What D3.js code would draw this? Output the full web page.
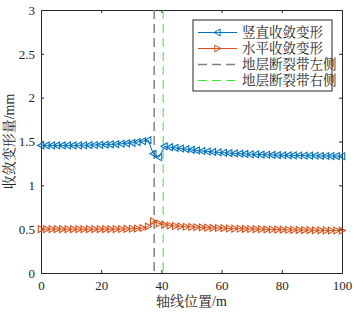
<!DOCTYPE html>
<html><head><meta charset="utf-8">
<script src="https://cdn.jsdelivr.net/npm/d3@7"></script>
<style>
html,body{margin:0;padding:0;background:#fff;}
text{font-family:"Liberation Serif","Times New Roman","Noto Serif CJK SC","Noto Sans CJK SC",serif;}
</style></head>
<body><div id="chart"></div>
<script>
const xPos = [0,1.8,3.6,5.3,7.1,8.9,10.7,12.5,14.2,16.0,17.8,19.6,21.4,23.1,24.9,26.7,28.5,30.3,32.0,33.8,35.6,
  37.3,39.2,41.0,
  42.8,44.6,46.4,48.2,50.0,51.7,53.5,55.3,57.1,58.9,60.7,62.5,64.3,66.1,67.8,69.6,71.4,73.2,75.0,76.8,78.6,80.4,82.2,83.9,85.7,87.5,89.3,91.1,92.9,94.7,96.4,98.2,100];
const verticalConv = [1.455,1.455,1.455,1.455,1.455,1.455,1.455,1.456,1.457,1.458,1.46,1.462,1.464,1.467,1.47,1.474,1.479,1.485,1.493,1.503,1.515,
  1.36,1.32,1.445,
  1.435,1.428,1.42,1.413,1.405,1.398,1.392,1.386,1.381,1.376,1.372,1.368,1.364,1.361,1.358,1.355,1.353,1.351,1.349,1.347,1.345,1.343,1.342,1.341,1.34,1.339,1.338,1.337,1.336,1.335,1.334,1.333,1.332];
const horizontalConv = [0.5,0.5,0.5,0.5,0.5,0.5,0.5,0.5,0.5,0.5,0.5,0.5,0.5,0.5,0.501,0.502,0.503,0.505,0.508,0.513,0.53,
  0.59,0.565,0.55,
  0.542,0.536,0.532,0.528,0.525,0.522,0.52,0.517,0.515,0.513,0.511,0.509,0.507,0.505,0.503,0.502,0.5,0.499,0.497,0.496,0.495,0.494,0.493,0.492,0.491,0.49,0.489,0.488,0.487,0.486,0.485,0.485,0.484];
const faultLeft = 37.6, faultRight = 40.6;
const seriesNames = ["竖直收敛变形","水平收敛变形","地层断裂带左侧","地层断裂带右侧"];
const xTicks = [0,20,40,60,80,100];
const yTicks = [0,0.5,1,1.5,2,2.5,3];
const xTitle = "轴线位置/m", yTitle = "收敛变形量/mm";

const W=354,H=313, m={l:41,r:12,t:10,b:40};
const svg=d3.select("#chart").append("svg").attr("width",W).attr("height",H);
const x=d3.scaleLinear().domain([0,100]).range([m.l,W-m.r]);
const y=d3.scaleLinear().domain([0,3]).range([H-m.b,m.t]);
const blue="#0072BD", orange="#D95319", gray="#808080", green="#33ee33";

const g=svg.append("g");
const ax=d3.axisBottom(x).tickValues(xTicks).tickSize(-3).tickPadding(8).tickFormat(d3.format("d"));
const ay=d3.axisLeft(y).tickValues(yTicks).tickSize(-3).tickPadding(6).tickFormat(d=>d);
const axT=d3.axisTop(x).tickValues(xTicks).tickSize(-3).tickFormat("");
const ayR=d3.axisRight(y).tickValues(yTicks).tickSize(-3).tickFormat("");
[[ax,`translate(0,${H-m.b})`],[ay,`translate(${m.l},0)`],[axT,`translate(0,${m.t})`],[ayR,`translate(${W-m.r},0)`]].forEach(([a,t])=>{
  const gg=g.append("g").attr("transform",t).call(a);
  gg.selectAll("path,line").attr("stroke","#262626").attr("stroke-width",1);
  gg.selectAll("text").attr("font-size",13).attr("fill","#262626");
});

svg.append("line").attr("x1",x(faultLeft)).attr("x2",x(faultLeft)).attr("y1",y(3)).attr("y2",y(0))
  .attr("stroke",gray).attr("stroke-width",1.5).attr("stroke-dasharray","9,5");
svg.append("line").attr("x1",x(faultRight)).attr("x2",x(faultRight)).attr("y1",y(3)).attr("y2",y(0))
  .attr("stroke",green).attr("stroke-width",1).attr("stroke-dasharray","9,5");

function tri(dir,s){
  const h=s;
  return dir<0? `M${-h},0L${h*0.8},${-h}L${h*0.8},${h}Z` : `M${h},0L${-h*0.8},${-h}L${-h*0.8},${h}Z`;
}
function series(vals,col,dir){
  const data=xPos.map((d,i)=>[d,vals[i]]);
  svg.append("path").datum(data).attr("d",d3.line().x(d=>x(d[0])).y(d=>y(d[1])))
    .attr("fill","none").attr("stroke",col).attr("stroke-width",1);
  svg.append("g").selectAll("path").data(data).join("path")
    .attr("transform",d=>`translate(${x(d[0])},${y(d[1])})`)
    .attr("d",tri(dir,3.4)).attr("fill","none").attr("stroke",col).attr("stroke-width",1.1);
}
series(verticalConv,blue,-1);
series(horizontalConv,orange,1);

const lg=svg.append("g").attr("transform","translate(193,20)");
lg.append("rect").attr("width",139).attr("height",71).attr("fill","#fff").attr("stroke","#262626").attr("stroke-width",1);
const cols=[blue,orange,gray,green];
seriesNames.forEach((n,i)=>{
  const yy=12.5+i*16;
  const ln=lg.append("line").attr("x1",5).attr("x2",44).attr("y1",yy).attr("y2",yy).attr("stroke",cols[i]).attr("stroke-width",i==2?1.5:1);
  if(i>=2) ln.attr("stroke-dasharray","9,5");
  if(i<2) lg.append("path").attr("transform",`translate(24.5,${yy})`).attr("d",tri(i==0?-1:1,3.4)).attr("fill","none").attr("stroke",cols[i]);
  lg.append("text").attr("x",49).attr("y",yy+4.5).attr("font-size",13.5).attr("fill","#262626").text(n);
});

svg.append("text").attr("x",(m.l+W-m.r)/2).attr("y",306).attr("text-anchor","middle").attr("font-size",14).attr("fill","#262626").text(xTitle);
svg.append("text").attr("transform",`translate(14,${(m.t+H-m.b)/2}) rotate(-90)`).attr("text-anchor","middle").attr("font-size",14).attr("fill","#262626").text(yTitle);
</script></body></html>
